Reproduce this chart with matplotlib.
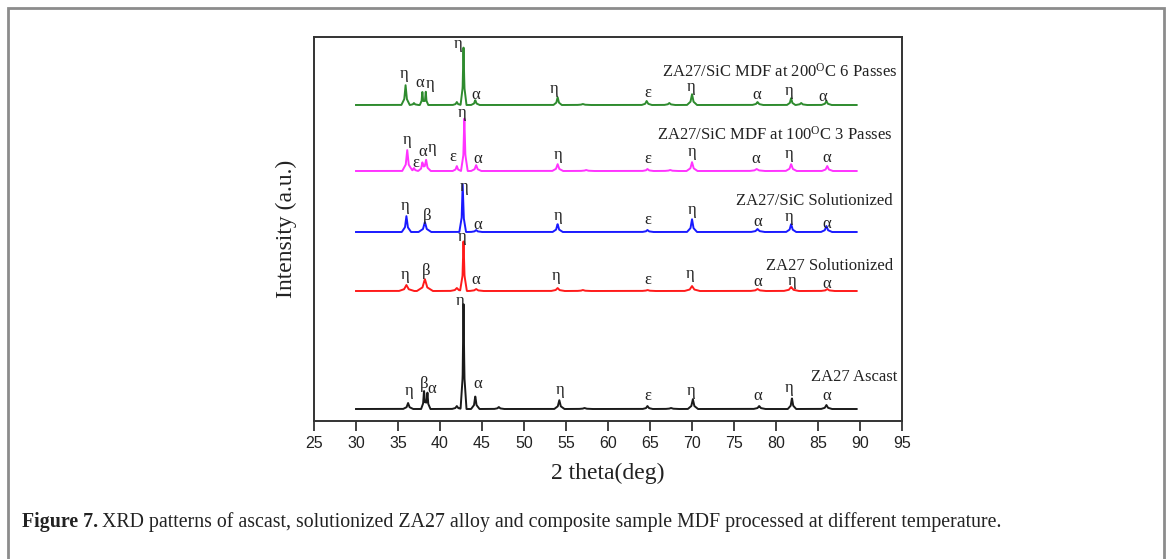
"""
XRD patterns of ZA27 ascast / solutionized alloy and ZA27/SiC MDF composites.
"""
import numpy as np
import matplotlib
matplotlib.use("Agg")
import matplotlib.pyplot as plt
from matplotlib.patches import Rectangle

plt.rcParams['mathtext.fontset'] = 'custom'
plt.rcParams['mathtext.rm'] = 'Liberation Serif'
plt.rcParams['mathtext.it'] = 'Liberation Serif:italic'

# ---- data ----
# peak tables: position (2theta, deg), height above baseline (a.u.), half width at base (deg)
black_pos = [36.2, 38.1, 38.5, 42.0, 42.8, 44.2, 47.0, 54.2, 57.2, 64.7, 67.5, 70.1, 78.0, 81.9, 86.0]
black_hgt = [6, 19, 17, 3, 106, 13, 2, 9, 1, 3, 1, 10, 3, 11, 4]
black_wid = [0.6, 0.35, 0.35, 0.6, 0.35, 0.5, 0.6, 0.6, 0.8, 0.6, 0.8, 0.6, 0.7, 0.5, 0.65]

red_pos = [36.0, 38.2, 42.0, 42.8, 44.3, 54.0, 57.0, 64.7, 70.0, 77.8, 81.8, 86.1]
red_hgt = [6, 12, 3, 50, 2, 3, 1, 1, 5, 2, 4, 2]
red_wid = [0.9, 0.95, 0.8, 0.4, 0.8, 0.8, 0.8, 0.8, 0.9, 0.9, 0.9, 0.8]

blue_pos = [36.0, 38.2, 42.7, 44.3, 54.0, 64.7, 70.0, 77.8, 81.8, 86.0]
blue_hgt = [16, 10, 48, 2, 8, 2, 13, 3, 8, 6]
blue_wid = [0.55, 0.75, 0.4, 0.65, 0.6, 0.65, 0.6, 0.8, 0.6, 0.65]

magenta_pos = [36.1, 36.9, 37.9, 38.35, 42.0, 42.9, 44.3, 54.0, 57.4, 64.7, 67.4, 70.0, 77.7, 81.8, 86.1]
magenta_hgt = [21, 3, 8, 11, 5, 53, 6, 7, 1, 2, 1, 9, 2, 7, 5]
magenta_wid = [0.6, 0.5, 0.5, 0.55, 0.5, 0.4, 0.6, 0.65, 0.8, 0.65, 0.8, 0.65, 0.9, 0.65, 0.65]

green_pos = [35.9, 36.9, 37.9, 38.3, 42.0, 42.8, 44.2, 54.0, 57.0, 64.6, 67.3, 70.0, 77.8, 81.8, 83.0, 86.0]
green_hgt = [20, 2, 14, 14, 3, 58, 5, 8, 1, 4, 2, 11, 3, 7, 2, 4]
green_wid = [0.5, 0.5, 0.3, 0.3, 0.5, 0.35, 0.5, 0.5, 0.8, 0.6, 0.65, 0.6, 0.65, 0.5, 0.65, 0.6]

# phase labels: (position, height above baseline, phase)
black_labels = [(36.3, 14, 'η'), (38.1, 21, 'β'), (39.0, 16, 'α'), (42.4, 104, 'η'),
                (44.5, 21, 'α'), (54.3, 15, 'η'), (64.7, 9, 'ε'), (69.9, 14, 'η'),
                (77.8, 9, 'α'), (81.6, 17, 'η'), (86.1, 9, 'α')]
red_labels = [(35.9, 12, 'η'), (38.3, 16, 'β'), (42.6, 50, 'η'), (44.3, 7, 'α'),
              (53.8, 11, 'η'), (64.7, 7, 'ε'), (69.8, 13, 'η'), (77.8, 5, 'α'),
              (81.9, 6, 'η'), (86.0, 3, 'α')]
blue_labels = [(35.9, 22, 'η'), (38.5, 12, 'β'), (42.9, 41, 'η'), (44.5, 3, 'α'),
               (54.0, 12, 'η'), (64.7, 8, 'ε'), (70.0, 18, 'η'), (77.8, 6, 'α'),
               (81.6, 11, 'η'), (86.0, 4, 'α')]
magenta_labels = [(36.1, 27, 'η'), (37.1, 4, 'ε'), (37.9, 15, 'α'), (39.0, 19, 'η'),
                  (41.5, 10, 'ε'), (42.6, 54, 'η'), (44.5, 8, 'α'), (54.1, 12, 'η'),
                  (64.7, 8, 'ε'), (70.0, 15, 'η'), (77.6, 8, 'α'), (81.6, 13, 'η'),
                  (86.1, 9, 'α')]
green_labels = [(35.7, 27, 'η'), (37.6, 18, 'α'), (38.8, 17, 'η'), (42.1, 57, 'η'),
                (44.3, 6, 'α'), (53.6, 12, 'η'), (64.7, 8, 'ε'), (69.9, 14, 'η'),
                (77.7, 6, 'α'), (81.6, 10, 'η'), (85.6, 4, 'α')]

series_names = ['ZA27 Ascast', 'ZA27 Solutionized', 'ZA27/SiC Solutionized',
                'ZA27/SiC MDF at 100$^{\\mathrm{O}}$C 3 Passes',
                'ZA27/SiC MDF at 200$^{\\mathrm{O}}$C 6 Passes']
name_heights = [28, 21, 27, 31, 28]

# ---- layout / style ----
offsets = [12, 130, 189, 250, 316]
colors = ['#1a1a1a', '#ff1a1a', '#1a1aff', '#ff33ff', '#2e8b2e']
name_right = [94.5, 93.9, 93.9, 93.9, 94.4]
x_start, x_end = 30.0, 89.6

patterns = [(black_pos, black_hgt, black_wid, black_labels),
            (red_pos, red_hgt, red_wid, red_labels),
            (blue_pos, blue_hgt, blue_wid, blue_labels),
            (magenta_pos, magenta_hgt, magenta_wid, magenta_labels),
            (green_pos, green_hgt, green_wid, green_labels)]

serif = ['Liberation Serif', 'DejaVu Serif']
shape_x = np.array([-1.0, -0.3, 0.0, 0.3, 1.0])
shape_y = np.array([0.0, 0.3, 1.0, 0.3, 0.0])


def profile(grid, pos, hgt, wid):
    """Sum of the listed peaks on a drawing grid."""
    y = np.zeros_like(grid)
    for p, h, w in zip(pos, hgt, wid):
        y += np.interp(grid, p + w * shape_x, h * shape_y, left=0, right=0)
    return y


fig = plt.figure(figsize=(11.7, 5.59), dpi=100)
W, H = 1170, 559
ax = fig.add_axes([314 / W, 1 - 421 / H, (902 - 314) / W, (421 - 37) / H])

grid = np.linspace(x_start, x_end, 3000)
for i, (pos, hgt, wid, labels) in enumerate(patterns):
    y = profile(grid, pos, hgt, wid) + offsets[i]
    ax.plot(grid, y, color=colors[i], lw=1.4)
    for lx, ly, sym in labels:
        ax.text(lx, offsets[i] + ly, sym, ha='center', va='baseline',
                fontsize=12, family=serif, color='#222222')
    ax.text(name_right[i], offsets[i] + name_heights[i], series_names[i],
            ha='right', va='baseline', fontsize=12, family=serif, color='#222222')

ax.set_xlim(25, 95)
ax.set_ylim(0, 384)
ax.set_xticks(np.arange(25, 96, 5))
ax.set_yticks([])
ax.tick_params(axis='x', direction='out', length=7, width=1.2, labelsize=11.5,
               colors='#222222', pad=4)
for lab in ax.get_xticklabels():
    lab.set_family(['Liberation Sans', 'DejaVu Sans'])
for sp in ax.spines.values():
    sp.set_linewidth(1.4)
    sp.set_color('#333333')

ax.set_xlabel('2 theta(deg)', fontsize=17, family=serif, labelpad=8, color='#222222')
ax.set_ylabel('Intensity (a.u.)', fontsize=17, family=serif, labelpad=12, color='#222222')

# outer frame of the figure panel
fig.patches.append(Rectangle((8 / W, -0.05), (1164 - 8) / W, 1.05 - 8 / H,
                             transform=fig.transFigure, fill=False,
                             edgecolor='#8c8c8c', lw=2))

# caption
cap_y = 1 - 527 / H
t1 = fig.text(22 / W, cap_y, 'Figure 7.', fontsize=14.3, weight='bold',
              family=serif, va='baseline', color='#222222')
renderer = fig.canvas.get_renderer()
bb = t1.get_window_extent(renderer)
fig.text(bb.x1 / W + 4 / W, cap_y,
         'XRD patterns of ascast, solutionized ZA27 alloy and composite sample MDF '
         'processed at different temperature.',
         fontsize=14.3, family=serif, va='baseline', color='#222222')

fig.savefig('out.png', dpi=100)
